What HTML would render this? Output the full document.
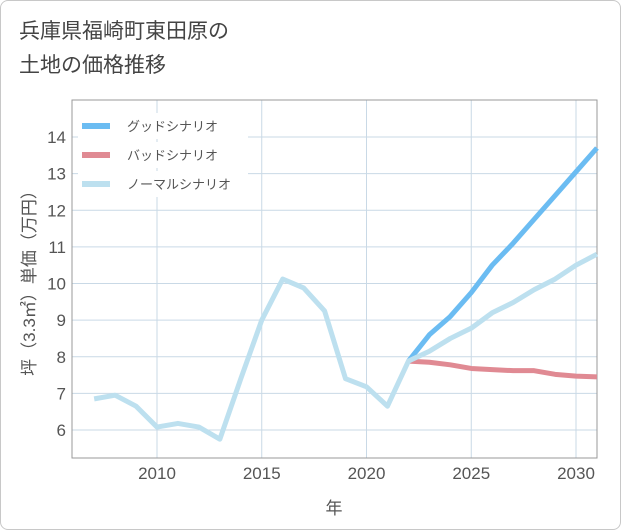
<!DOCTYPE html>
<html><head><meta charset="utf-8"><style>
body{margin:0;background:#fff;}
#card{position:absolute;left:0;top:0;width:619px;height:528px;border:1px solid #c8c8c8;border-radius:8px;background:#fff;font-family:"Liberation Sans","Noto Sans CJK JP",sans-serif;}
#title{position:absolute;left:18px;top:14px;font-size:21px;line-height:34px;color:#444;}
svg{position:absolute;left:0;top:0;font-family:"Liberation Sans","Noto Sans CJK JP",sans-serif;}
</style></head><body>
<div id="card">
<div id="title">兵庫県福崎町東田原の<br>土地の価格推移</div>
</div>
<svg id="chart" width="621" height="530"></svg>
<script>
const years=[2007,2008,2009,2010,2011,2012,2013,2014,2015,2016,2017,2018,2019,2020,2021,2022,2023,2024,2025,2026,2027,2028,2029,2030,2031];
const normalVals=[6.85,6.95,6.65,6.08,6.18,6.08,5.75,7.4,9.0,10.12,9.88,9.25,7.4,7.18,6.65,7.88,8.15,8.5,8.78,9.2,9.48,9.83,10.12,10.5,10.8];
const goodYears=[2022,2023,2024,2025,2026,2027,2028,2029,2030,2031];
const goodVals=[7.88,8.6,9.1,9.75,10.5,11.1,11.75,12.4,13.05,13.7];
const badVals=[7.88,7.85,7.78,7.68,7.65,7.62,7.62,7.52,7.47,7.45];
const xTicks=[2010,2015,2020,2025,2030];
const yTicks=[6,7,8,9,10,11,12,13,14];
const L=72,R=597,T=100,B=458;
const X=y=>157+(y-2010)*(576-157)/20;
const Y=v=>430-(v-6)*(430-137)/8;
const svg=document.getElementById('chart');
const NS='http://www.w3.org/2000/svg';
function mk(t,a){const e=document.createElementNS(NS,t);for(const k in a)e.setAttribute(k,a[k]);svg.appendChild(e);return e;}
for(const t of yTicks){const g=mk('line',{x1:L,x2:R,y1:Y(t),y2:Y(t),stroke:'#c9d9e6','stroke-width':1});


const lb=mk('text',{x:L-6,y:Y(t)+6,'text-anchor':'end','font-size':17,fill:'#555'});lb.textContent=t;

}
for(const t of xTicks){const g=mk('line',{x1:X(t),x2:X(t),y1:T,y2:B,stroke:'#c9d9e6','stroke-width':1});


const lb=mk('text',{x:X(t),y:B+21,'text-anchor':'middle','font-size':17,fill:'#555'});lb.textContent=t;

}
const fr=mk('rect',{x:L,y:T,width:R-L,height:B-T,fill:'none',stroke:'#999','stroke-width':1});


function line(xs,vs,color,name){const p=mk('polyline',{points:xs.map((x,i)=>X(x)+','+Y(vs[i])).join(' '),fill:'none',stroke:color,'stroke-width':5,'stroke-linejoin':'round'});

}
line(goodYears,badVals,'#e08a93','bad-scenario-line');
line(goodYears,goodVals,'#6bbcf2','good-scenario-line');
line(years,normalVals,'#bde0ef','normal-scenario-line');
const leg=[['グッドシナリオ','#6bbcf2'],['バッドシナリオ','#e08a93'],['ノーマルシナリオ','#bde0ef']];
leg.forEach((e,i)=>{const y=126+i*29;
const bg=mk('rect',{x:78,y:y-13,width:170,height:26,fill:'#fff'});


const s=mk('line',{x1:82,x2:110,y1:y,y2:y,stroke:e[1],'stroke-width':6});


const t=mk('text',{x:127,y:y+5,'font-size':13,fill:'#555'});t.textContent=e[0];

});
const yl=mk('text',{x:0,y:0,'font-size':17,fill:'#555','text-anchor':'middle',transform:'translate(35,279) rotate(-90)'});yl.textContent='坪（3.3㎡）単価（万円）';


const xl=mk('text',{x:334,y:514,'font-size':17,fill:'#555','text-anchor':'middle'});xl.textContent='年';


</script>
</body></html>
